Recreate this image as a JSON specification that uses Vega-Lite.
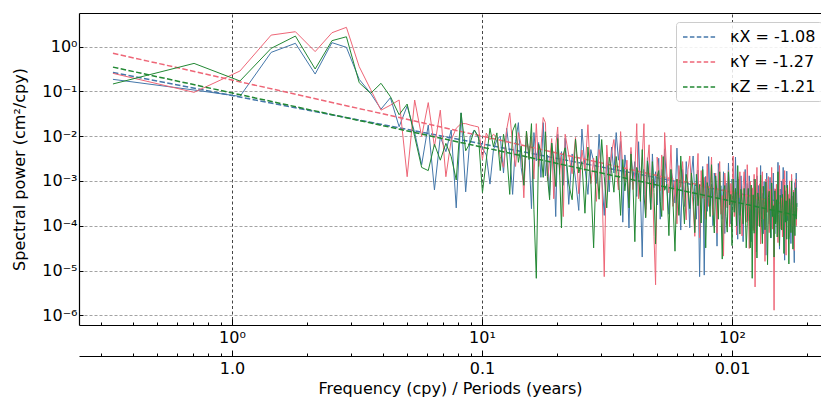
{
  "$schema": "https://vega.github.io/schema/vega-lite/v6.json",
  "width": 742,
  "height": 312,
  "autosize": {"type": "none"},
  "padding": {"left": 79, "top": 13, "right": 0, "bottom": 73},
  "background": "white",
  "config": {
    "view": {"stroke": null},
    "font": "DejaVu Sans",
    "axis": {
      "labelFont": "DejaVu Sans", "titleFont": "DejaVu Sans",
      "labelFontSize": 16, "titleFontSize": 16, "titleFontWeight": "normal",
      "labelColor": "#000", "titleColor": "#000",
      "domainColor": "#000", "tickColor": "#000", "domainWidth": 1.2, "tickWidth": 1,
      "labelOverlap": false, "labelFlush": false
    }
  },
  "datasets": {
    "spec": [
      {"f":0.334,"X":0.185,"Y":0.252,"Z":0.146},
      {"f":0.705,"X":0.107,"Y":0.095,"Z":0.42},
      {"f":1.076,"X":0.077,"Y":0.284,"Z":0.17},
      {"f":1.434,"X":0.74,"Y":1.8,"Z":0.91},
      {"f":1.793,"X":1.18,"Y":2.14,"Z":1.71},
      {"f":2.151,"X":0.243,"Y":0.77,"Z":0.315},
      {"f":2.510,"X":1.22,"Y":2.03,"Z":1.35},
      {"f":2.868,"X":0.96,"Y":2.68,"Z":1.65},
      {"f":3.227,"X":0.185,"Y":0.355,"Z":0.156},
      {"f":3.585,"X":0.090,"Y":0.11,"Z":0.090},
      {"f":3.944,"X":0.040,"Y":0.038,"Z":0.151},
      {"f":4.302,"X":0.072,"Y":0.049,"Z":0.076},
      {"f":4.661,"X":0.0162,"Y":0.064,"Z":0.030},
      {"f":5.019,"X":0.047,"Y":0.00124,"Z":0.052},
      {"f":5.378,"X":0.012,"Y":0.064,"Z":0.0098},
      {"f":5.736,"X":0.0023,"Y":0.0098,"Z":0.0020},
      {"f":6.095,"X":0.0176,"Y":0.056,"Z":0.0017},
      {"f":6.453,"X":0.00063,"Y":0.0058,"Z":0.0066},
      {"f":6.812,"X":0.0097,"Y":0.038,"Z":0.0029},
      {"f":7.170,"X":0.0045,"Y":0.00124,"Z":0.0069},
      {"f":7.529,"X":0.0137,"Y":0.0082,"Z":0.0035},
      {"f":7.887,"X":0.00025,"Y":0.015,"Z":0.00105},
      {"f":8.246,"X":0.033,"Y":0.019,"Z":0.033},
      {"f":8.604,"X":0.00057,"Y":0.019,"Z":0.0047},
      {"f":8.963,"X":0.0097,"Y":0.0177,"Z":0.0070},
      {"f":9.321,"X":0.0137,"Y":0.0168,"Z":0.0137},
      {"f":9.680,"X":0.009,"Y":0.016,"Z":0.0097},
      {"f":10.04,"X":0.0054,"Y":0.003,"Z":0.00055},
      {"f":10.40,"X":0.0038,"Y":0.0117,"Z":0.0029},
      {"f":10.76,"X":0.00085,"Y":0.0083,"Z":0.015},
      {"f":11.11,"X":0.0049,"Y":0.011,"Z":0.0058},
      {"f":11.47,"X":0.0083,"Y":0.0095,"Z":0.0118},
      {"f":11.83,"X":1.0e-2,"Y":3.5e-3,"Z":1.7e-3},
      {"f":12.19,"X":1.5e-3,"Y":2e-3,"Z":1.1e-2},
      {"f":12.55,"X":1.5e-2,"Y":1.4e-2,"Z":4.3e-3},
      {"f":12.91,"X":4e-3,"Y":3.3e-2,"Z":5e-4},
      {"f":13.26,"X":5e-4,"Y":6.3e-3,"Z":1.3e-2},
      {"f":13.62,"X":7.5e-3,"Y":2.1e-3,"Z":1.9e-2},
      {"f":13.98,"X":2e-2,"Y":1.2e-2,"Z":2.6e-3},
      {"f":14.34,"X":2e-3,"Y":6.4e-3,"Z":6e-3},
      {"f":14.70,"X":8e-4,"Y":4.2e-4,"Z":8e-4},
      {"f":15.06,"X":1e-2,"Y":1.3e-2,"Z":1.3e-2},
      {"f":15.42,"X":4e-3,"Y":3.2e-3,"Z":3e-3},
      {"f":15.77,"X":2.4e-4,"Y":9.5e-3,"Z":1.9e-2},
      {"f":16.13,"X":1.2e-2,"Y":1.1e-3,"Z":2.3e-4},
      {"f":16.49,"X":2.8e-3,"Y":1.9e-2,"Z":6.7e-6},
      {"f":16.85,"X":7.2e-3,"Y":2.1e-3,"Z":6.6e-3},
      {"f":17.21,"X":1.2e-3,"Y":5.3e-3,"Z":4.3e-3},
      {"f":17.57,"X":2e-2,"Y":2.6e-2,"Z":1.2e-3},
      {"f":17.93,"X":1.3e-3,"Y":2e-2,"Z":1.25e-2},
      {"f":18.28,"X":3.8e-3,"Y":1e-3,"Z":1.25e-3},
      {"f":18.64,"X":4.8e-4,"Y":2.8e-3,"Z":3.8e-4},
      {"f":19.00,"X":7e-3,"Y":8.8e-3,"Z":7e-3},
      {"f":19.36,"X":2.9e-3,"Y":4e-4,"Z":2.8e-3},
      {"f":19.72,"X":1.6e-4,"Y":6e-3,"Z":7.5e-4},
      {"f":20.08,"X":1.1e-2,"Y":1.6e-2,"Z":8.8e-3},
      {"f":20.43,"X":1.9e-3,"Y":1.4e-3,"Z":1.75e-3},
      {"f":20.79,"X":4.5e-3,"Y":3.6e-3,"Z":8.9e-5},
      {"f":21.15,"X":8e-4,"Y":1.6e-4,"Z":4e-3},
      {"f":21.51,"X":9e-3,"Y":1.1e-2,"Z":5.5e-3},
      {"f":22.23,"X":3e-4,"Y":3.8e-3,"Z":8.5e-4},
      {"f":22.94,"X":4e-3,"Y":1.45e-3,"Z":3.8e-4},
      {"f":23.66,"X":1.1e-3,"Y":9.3e-3,"Z":8.5e-3},
      {"f":24.38,"X":2.2e-4,"Y":5.2e-4,"Z":1.5e-3},
      {"f":25.10,"X":1.44e-2,"Y":4.9e-3,"Z":2.7e-3},
      {"f":25.81,"X":2e-3,"Y":1.7e-3,"Z":1.9e-4},
      {"f":26.53,"X":5e-4,"Y":1.8e-2,"Z":5.7e-3},
      {"f":27.25,"X":5e-3,"Y":8.7e-4,"Z":1e-3},
      {"f":27.96,"X":2.75e-3,"Y":3.2e-3,"Z":3.2e-5},
      {"f":28.68,"X":8.8e-4,"Y":3.5e-4,"Z":3.6e-3},
      {"f":29.40,"X":1.1e-2,"Y":5e-3,"Z":3.9e-4},
      {"f":30.11,"X":1.3e-3,"Y":1.7e-3,"Z":8.4e-3},
      {"f":30.83,"X":1.7e-4,"Y":7.3e-6,"Z":1.26e-3},
      {"f":31.55,"X":3.8e-3,"Y":6.3e-3,"Z":2.5e-4},
      {"f":32.27,"X":5.7e-4,"Y":1.05e-3,"Z":3.4e-3},
      {"f":32.98,"X":5.7e-3,"Y":4.2e-3,"Z":1.7e-3},
      {"f":33.70,"X":1.5e-3,"Y":8.4e-3,"Z":5.6e-4},
      {"f":34.42,"X":1.2e-2,"Y":1.9e-3,"Z":3.5e-3},
      {"f":35.13,"X":2.9e-3,"Y":6.3e-4,"Z":1.4e-3},
      {"f":35.85,"X":7.6e-3,"Y":1.26e-2,"Z":1.7e-4},
      {"f":36.57,"X":1.2e-4,"Y":1.9e-3,"Z":3e-3},
      {"f":37.28,"X":3.8e-3,"Y":9.6e-4,"Z":6e-4},
      {"f":38.00,"X":1.5e-3,"Y":2.9e-3,"Z":1.8e-3},
      {"f":38.72,"X":8.9e-5,"Y":3.2e-4,"Z":2.5e-4},
      {"f":39.44,"X":4.5e-3,"Y":5.6e-3,"Z":4e-3},
      {"f":40.15,"X":1.05e-3,"Y":6.4e-4,"Z":9e-4},
      {"f":40.87,"X":2.7e-3,"Y":1.6e-3,"Z":4.4e-5},
      {"f":41.59,"X":4.5e-4,"Y":1.9e-2,"Z":2e-3},
      {"f":42.30,"X":7.5e-3,"Y":4e-4,"Z":1.3e-3},
      {"f":43.02,"X":6e-4,"Y":1.1e-3,"Z":3.5e-4},
      {"f":43.74,"X":2e-5,"Y":3.5e-3,"Z":5e-3},
      {"f":44.45,"X":1.8e-3,"Y":1.9e-2,"Z":5e-4},
      {"f":45.17,"X":2.3e-4,"Y":1.6e-4,"Z":1.5e-4},
      {"f":45.89,"X":3.3e-3,"Y":2.4e-3,"Z":2.8e-3},
      {"f":46.61,"X":1.35e-3,"Y":6.4e-3,"Z":1.1e-3},
      {"f":47.32,"X":2.3e-4,"Y":4.2e-4,"Z":2.3e-4},
      {"f":48.04,"X":4e-3,"Y":1.1e-3,"Z":2.7e-3},
      {"f":48.76,"X":7e-4,"Y":5.8e-5,"Z":5.5e-4},
      {"f":49.47,"X":1.6e-3,"Y":4.8e-6,"Z":3.9e-5},
      {"f":50.19,"X":2.9e-4,"Y":3.4e-3,"Z":1.25e-3},
      {"f":50.91,"X":3.2e-3,"Y":1.6e-3,"Z":1.7e-3},
      {"f":51.62,"X":1.4e-4,"Y":6e-4,"Z":3.5e-4},
      {"f":52.34,"X":1.8e-3,"Y":3.8e-3,"Z":1.6e-4},
      {"f":53.06,"X":5.2e-4,"Y":2.2e-4,"Z":3.5e-3},
      {"f":53.78,"X":5.2e-3,"Y":1.2e-2,"Z":6.2e-4},
      {"f":54.85,"X":7.2e-4,"Y":1.5e-3,"Z":8.4e-4},
      {"f":55.93,"X":1.8e-4,"Y":5.4e-4,"Z":6e-5},
      {"f":57.00,"X":1.8e-3,"Y":6.3e-3,"Z":1.8e-3},
      {"f":58.08,"X":1e-3,"Y":2.7e-4,"Z":3.3e-4},
      {"f":59.15,"X":3.2e-4,"Y":1e-3,"Z":2.7e-5},
      {"f":60.23,"X":5.4e-3,"Y":1.1e-4,"Z":1.1e-3},
      {"f":61.30,"X":6.3e-4,"Y":2.2e-3,"Z":1.7e-4},
      {"f":62.38,"X":8e-5,"Y":7.2e-4,"Z":3.6e-3},
      {"f":63.45,"X":1.8e-3,"Y":2.7e-3,"Z":5.4e-4},
      {"f":64.53,"X":2.7e-4,"Y":4.5e-4,"Z":1.1e-4},
      {"f":65.61,"X":2.7e-3,"Y":1.35e-4,"Z":1.4e-3},
      {"f":66.68,"X":7.2e-4,"Y":1.8e-3,"Z":7.2e-4},
      {"f":67.76,"X":9e-5,"Y":3.6e-3,"Z":2.4e-4},
      {"f":68.83,"X":1.35e-3,"Y":8.1e-4,"Z":1.5e-3},
      {"f":69.91,"X":3.6e-3,"Y":2.7e-4,"Z":6e-4},
      {"f":70.98,"X":4.5e-4,"Y":5.8e-5,"Z":7e-5},
      {"f":72.06,"X":1.4e-4,"Y":8.2e-4,"Z":1.4e-3},
      {"f":73.13,"X":1.75e-3,"Y":4.1e-3,"Z":2.8e-4},
      {"f":74.21,"X":7.3e-6,"Y":5.4e-5,"Z":8.3e-4},
      {"f":75.29,"X":7e-4,"Y":1.7e-3,"Z":1.15e-4},
      {"f":76.36,"X":2.1e-3,"Y":4.1e-4,"Z":1.8e-3},
      {"f":77.44,"X":7.9e-6,"Y":1.2e-3,"Z":4.1e-4},
      {"f":78.51,"X":1.26e-3,"Y":1.4e-4,"Z":3.2e-5},
      {"f":79.59,"X":2.1e-4,"Y":2.4e-3,"Z":9.2e-4},
      {"f":80.66,"X":3.5e-3,"Y":2.7e-4,"Z":6e-4},
      {"f":81.74,"X":2.8e-4,"Y":6.8e-4,"Z":1.6e-4},
      {"f":82.81,"X":8.4e-4,"Y":3.4e-3,"Z":2.3e-3},
      {"f":83.89,"X":1e-4,"Y":1.7e-4,"Z":2.3e-4},
      {"f":84.96,"X":1.5e-3,"Y":4.8e-4,"Z":6.9e-5},
      {"f":86.04,"X":6.3e-4,"Y":1.5e-3,"Z":1.3e-3},
      {"f":87.12,"X":3.5e-5,"Y":6.8e-5,"Z":5e-4},
      {"f":88.19,"X":2.45e-3,"Y":1e-3,"Z":1.4e-4},
      {"f":89.27,"X":4.2e-4,"Y":2.7e-3,"Z":1.6e-3},
      {"f":90.34,"X":7.8e-4,"Y":1.8e-4,"Z":2.5e-4},
      {"f":91.42,"X":1.4e-4,"Y":4.7e-4,"Z":1.8e-5},
      {"f":92.49,"X":1.6e-3,"Y":2.1e-5,"Z":5.8e-4},
      {"f":93.57,"X":6.7e-5,"Y":1.5e-3,"Z":7.9e-4},
      {"f":94.64,"X":9e-4,"Y":6.8e-4,"Z":1.6e-4},
      {"f":95.72,"X":2.5e-4,"Y":2.6e-4,"Z":7.2e-5},
      {"f":96.80,"X":2.5e-3,"Y":1.7e-3,"Z":1.6e-3},
      {"f":97.87,"X":4.5e-4,"Y":9.4e-5,"Z":2.9e-4},
      {"f":98.95,"X":1.1e-4,"Y":8.8e-4,"Z":5e-4},
      {"f":100.02,"X":1.1e-3,"Y":3.1e-4,"Z":3.6e-5},
      {"f":101.10,"X":6.2e-4,"Y":3.6e-3,"Z":1.1e-3},
      {"f":102.17,"X":2e-4,"Y":1.6e-4,"Z":2e-4},
      {"f":103.25,"X":3.4e-3,"Y":5.7e-4,"Z":6.8e-4},
      {"f":104.32,"X":3.9e-4,"Y":6.2e-5,"Z":1e-4},
      {"f":105.40,"X":5e-5,"Y":1.25e-3,"Z":2.2e-3},
      {"f":106.47,"X":1.1e-3,"Y":4.2e-4,"Z":3.2e-4},
      {"f":107.55,"X":1.7e-4,"Y":1.6e-3,"Z":6.5e-5},
      {"f":108.63,"X":1.3e-3,"Y":2e-4,"Z":6.5e-4},
      {"f":109.70,"X":3.5e-4,"Y":5.9e-5,"Z":3.2e-4},
      {"f":110.78,"X":4.4e-5,"Y":7.8e-4,"Z":1.1e-4},
      {"f":111.85,"X":6.6e-4,"Y":1.6e-3,"Z":6.8e-4},
      {"f":112.93,"X":1.8e-3,"Y":3.5e-4,"Z":2.7e-4},
      {"f":114.00,"X":2.2e-4,"Y":1.2e-4,"Z":3.2e-5},
      {"f":115.08,"X":8.8e-4,"Y":2.3e-3,"Z":1.1e-4},
      {"f":116.15,"X":1.3e-4,"Y":4.7e-4,"Z":6.8e-4},
      {"f":117.23,"X":1.3e-3,"Y":3.1e-5,"Z":2.7e-4},
      {"f":118.31,"X":3.5e-4,"Y":9.8e-4,"Z":3.2e-5},
      {"f":119.38,"X":4.4e-5,"Y":2.3e-4,"Z":8.1e-4},
      {"f":120.46,"X":6.6e-4,"Y":7e-4,"Z":6.7e-6},
      {"f":121.53,"X":8.8e-5,"Y":7.8e-5,"Z":4.9e-4},
      {"f":122.61,"X":1.1e-3,"Y":1.4e-3,"Z":6.8e-5},
      {"f":123.68,"X":4.4e-4,"Y":4.3e-6,"Z":1.1e-3},
      {"f":124.76,"X":2.6e-5,"Y":3.9e-4,"Z":2.4e-4},
      {"f":125.83,"X":1.3e-3,"Y":2e-3,"Z":1.9e-5},
      {"f":126.91,"X":3.1e-4,"Y":9.8e-5,"Z":5.4e-4},
      {"f":127.98,"X":7.9e-4,"Y":2.7e-4,"Z":3.5e-4},
      {"f":129.06,"X":1.3e-4,"Y":8.6e-4,"Z":9.5e-5},
      {"f":130.14,"X":2.2e-3,"Y":3.9e-5,"Z":1.35e-3},
      {"f":131.21,"X":1.8e-4,"Y":5.9e-4,"Z":1.35e-4},
      {"f":132.29,"X":5.3e-4,"Y":1.6e-3,"Z":4e-5},
      {"f":133.36,"X":6.6e-5,"Y":1.4e-4,"Z":7.6e-4},
      {"f":134.44,"X":9.7e-4,"Y":3.5e-4,"Z":3e-4},
      {"f":135.51,"X":4e-4,"Y":1.6e-5,"Z":8.1e-5},
      {"f":136.59,"X":2.2e-5,"Y":1.1e-3,"Z":9.5e-4},
      {"f":137.66,"X":1.5e-3,"Y":5.1e-4,"Z":1.9e-4},
      {"f":138.74,"X":2.6e-4,"Y":2e-4,"Z":1.35e-5},
      {"f":139.82,"X":6.2e-4,"Y":1.25e-3,"Z":4.3e-4},
      {"f":140.89,"X":1.1e-4,"Y":7e-5,"Z":5.9e-4},
      {"f":141.97,"X":1.2e-3,"Y":6.6e-4,"Z":1.2e-4},
      {"f":143.04,"X":5.3e-5,"Y":2.3e-4,"Z":5.4e-5},
      {"f":144.12,"X":5.3e-4,"Y":2e-3,"Z":9e-4},
      {"f":145.19,"X":1.5e-4,"Y":8.4e-5,"Z":1.6e-4},
      {"f":146.27,"X":1.5e-3,"Y":3.1e-4,"Z":2.8e-4},
      {"f":147.34,"X":2.6e-4,"Y":1.3e-6,"Z":2e-5},
      {"f":148.42,"X":6.6e-5,"Y":6.7e-4,"Z":6e-4},
      {"f":149.49,"X":6.6e-4,"Y":2.2e-4,"Z":1.1e-4},
      {"f":150.57,"X":3.6e-4,"Y":8.4e-4,"Z":3.8e-4},
      {"f":151.65,"X":1.2e-4,"Y":1.4e-4,"Z":5.6e-5},
      {"f":152.72,"X":2.6e-3,"Y":4.2e-5,"Z":1.6e-3},
      {"f":153.80,"X":2.3e-4,"Y":5.6e-4,"Z":1.8e-4},
      {"f":154.87,"X":3e-5,"Y":2.2e-3,"Z":3.6e-5},
      {"f":155.95,"X":6.6e-4,"Y":2.5e-4,"Z":4.8e-4},
      {"f":157.02,"X":1e-4,"Y":8.4e-5,"Z":2.4e-4},
      {"f":158.10,"X":1e-3,"Y":4.2e-4,"Z":8e-5},
      {"f":159.17,"X":2.6e-4,"Y":5.6e-5,"Z":5e-4},
      {"f":160.25,"X":2e-3,"Y":1.1e-3,"Z":2e-4},
      {"f":161.33,"X":1.65e-4,"Y":1.7e-4,"Z":2.4e-5},
      {"f":162.40,"X":1.7e-5,"Y":1.7e-3,"Z":8e-4},
      {"f":163.48,"X":6e-4,"Y":3.4e-4,"Z":1.2e-4},
      {"f":164.55,"X":1e-4,"Y":2.2e-5,"Z":3.6e-4},
      {"f":165.63,"X":1.65e-3,"Y":7e-4,"Z":5e-5},
      {"f":166.70,"X":1.3e-4,"Y":1.7e-4,"Z":8e-4},
      {"f":167.78,"X":4e-4,"Y":5e-4,"Z":1.8e-4},
      {"f":168.85,"X":5e-5,"Y":5.6e-5,"Z":1.4e-5},
      {"f":169.93,"X":7.3e-4,"Y":1e-3,"Z":4e-4},
      {"f":171.00,"X":3e-4,"Y":1.1e-4,"Z":2.6e-4},
      {"f":172.08,"X":4e-5,"Y":2.8e-4,"Z":7e-5},
      {"f":173.16,"X":1.15e-3,"Y":1.4e-3,"Z":1e-3},
      {"f":174.23,"X":2e-4,"Y":7e-5,"Z":1e-4},
      {"f":175.31,"X":4.6e-4,"Y":2e-4,"Z":3e-5},
      {"f":176.38,"X":8.2e-5,"Y":6.2e-4,"Z":5.6e-4},
      {"f":177.46,"X":1.5e-5,"Y":2.8e-5,"Z":2.2e-4},
      {"f":178.53,"X":9.2e-4,"Y":4.2e-4,"Z":6e-5},
      {"f":179.61,"X":1.5e-4,"Y":1.1e-3,"Z":7e-4},
      {"f":180.68,"X":1.5e-3,"Y":1e-4,"Z":1.4e-4},
      {"f":181.76,"X":2.6e-4,"Y":2.5e-4,"Z":3.2e-4}
    ],
    "fit": [
      {"s":"X","f":0.334,"p":0.263},
      {"s":"X","f":181.76,"p":2.92e-4},
      {"s":"Y","f":0.334,"p":0.708},
      {"s":"Y","f":181.76,"p":2.63e-4},
      {"s":"Z","f":0.334,"p":0.347},
      {"s":"Z","f":181.76,"p":1.70e-4}
    ]
  },
  "resolve": {"axis": {"x": "independent"}},
  "layer": [
    {
      "data": {"name": "spec"},
      "transform": [{"fold": ["X"], "as": ["s", "p"]}],
      "mark": {"type": "line", "strokeWidth": 1, "clip": true},
      "encoding": {
        "x": {
          "field": "f", "type": "quantitative",
          "scale": {"type": "log", "domain": [0.2443, 227], "nice": false},
          "axis": {
            "orient": "bottom", "title": null, "grid": false,
            "values": [0.3,0.4,0.5,0.6,0.7,0.8,0.9,1,2,3,4,5,6,7,8,9,10,20,30,40,50,60,70,80,90,100,200],
            "labelExpr": "datum.value == 1 ? '10⁰' : datum.value == 10 ? '10¹' : datum.value == 100 ? '10²' : ''",
            "tickSize": {"condition": {"test": "datum.value == 1 || datum.value == 10 || datum.value == 100", "value": -6}, "value": -3},
            "labelPadding": 10
          }
        },
        "y": {
          "field": "p", "type": "quantitative",
          "scale": {"type": "log", "domain": [6.08e-7, 5.6], "nice": false},
          "axis": {
            "title": "Spectral power (cm²/cpy)",
            "values": [1e-6, 1e-5, 1e-4, 1e-3, 1e-2, 1e-1, 1],
            "labelExpr": "datum.value >= 0.99 ? '10⁰' : datum.value > 0.09 ? '10⁻¹' : datum.value > 0.009 ? '10⁻²' : datum.value > 0.0009 ? '10⁻³' : datum.value > 0.00009 ? '10⁻⁴' : datum.value > 0.000009 ? '10⁻⁵' : '10⁻⁶'",
            "grid": true, "gridColor": "#999999", "gridDash": [3, 2], "gridWidth": 0.9,
            "tickSize": -4, "labelPadding": 6, "titlePadding": 14
          }
        },
        "color": {
          "datum": "X", "type": "nominal",
          "scale": {"domain": ["X", "Y", "Z"], "range": ["#4477AA", "#EE6677", "#228833"]},
          "legend": {
            "orient": "none", "legendX": 597, "legendY": 9, "direction": "vertical",
            "title": null,
            "symbolType": "M-1,0L3.2,0", "symbolSize": 256, "symbolStrokeWidth": 1.3, "symbolDash": [4.5, 2.4],
            "labelFontSize": 16, "labelFont": "DejaVu Sans", "labelColor": "#000", "labelOffset": 30,
            "labelExpr": "datum.label == 'X' ? 'κX = -1.08' : datum.label == 'Y' ? 'κY = -1.27' : 'κZ = -1.21'",
            "fillColor": "rgba(255,255,255,0.85)", "strokeColor": "#cccccc", "cornerRadius": 3,
            "padding": 6, "rowPadding": 8
          }
        }
      }
    },
    {
      "data": {"name": "fit"},
      "transform": [{"filter": "datum.s == 'X'"}],
      "mark": {"type": "line", "strokeWidth": 1.5, "strokeDash": [5.5, 2.4], "clip": true},
      "encoding": {
        "x": {
          "field": "f", "type": "quantitative",
          "axis": {
            "orient": "bottom", "offset": 31, "grid": false,
            "title": "Frequency (cpy) / Periods (years)", "titlePadding": 1,
            "values": [0.3,0.4,0.5,0.6,0.7,0.8,0.9,1,2,3,4,5,6,7,8,9,10,20,30,40,50,60,70,80,90,100,200],
            "labelExpr": "datum.value == 1 ? '1.0' : datum.value == 10 ? '0.1' : datum.value == 100 ? '0.01' : ''",
            "tickSize": {"condition": {"test": "datum.value == 1 || datum.value == 10 || datum.value == 100", "value": -6}, "value": -3},
            "labelPadding": 10
          }
        },
        "y": {"field": "p", "type": "quantitative"},
        "color": {"datum": "X", "type": "nominal"}
      }
    },
    {
      "data": {"name": "spec"},
      "transform": [{"fold": ["Y"], "as": ["s", "p"]}],
      "mark": {"type": "line", "strokeWidth": 1, "clip": true},
      "encoding": {
        "x": {
          "field": "f", "type": "quantitative",
          "axis": {
            "orient": "top", "title": null, "values": [1, 10, 100],
            "grid": true, "gridColor": "#444444", "gridDash": [3, 2.5], "gridWidth": 1,
            "ticks": false, "labels": false
          }
        },
        "y": {"field": "p", "type": "quantitative"},
        "color": {"datum": "Y", "type": "nominal"}
      }
    },
    {
      "data": {"name": "fit"},
      "transform": [{"filter": "datum.s == 'Y'"}],
      "mark": {"type": "line", "strokeWidth": 1.5, "strokeDash": [5.5, 2.4], "clip": true},
      "encoding": {
        "x": {"field": "f", "type": "quantitative", "axis": null},
        "y": {"field": "p", "type": "quantitative"},
        "color": {"datum": "Y", "type": "nominal"}
      }
    },
    {
      "data": {"name": "spec"},
      "transform": [{"fold": ["Z"], "as": ["s", "p"]}],
      "mark": {"type": "line", "strokeWidth": 1, "clip": true},
      "encoding": {
        "x": {"field": "f", "type": "quantitative", "axis": null},
        "y": {"field": "p", "type": "quantitative"},
        "color": {"datum": "Z", "type": "nominal"}
      }
    },
    {
      "data": {"name": "fit"},
      "transform": [{"filter": "datum.s == 'Z'"}],
      "mark": {"type": "line", "strokeWidth": 1.5, "strokeDash": [5.5, 2.4], "clip": true},
      "encoding": {
        "x": {"field": "f", "type": "quantitative", "axis": null},
        "y": {"field": "p", "type": "quantitative"},
        "color": {"datum": "Z", "type": "nominal"}
      }
    }
  ]
}
